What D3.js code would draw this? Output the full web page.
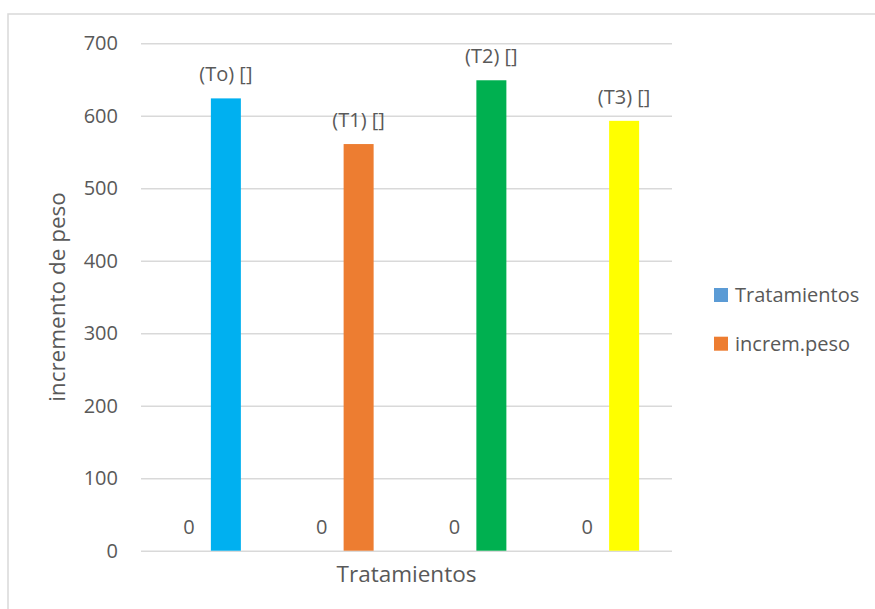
<!DOCTYPE html>
<html>
<head>
<meta charset="utf-8">
<script src="https://cdn.jsdelivr.net/npm/d3@7"></script>
<style>
  html, body { margin: 0; padding: 0; background: #fff; }
  svg { display: block; font-family: "Open Sans", sans-serif; }
</style>
</head>
<body>
<svg id="chart" width="875" height="609"></svg>
<script>
const categories = ["(To)", "(T1)", "(T2)", "(T3)"];
const seriesNames = ["Tratamientos", "increm.peso"];
const tratamientosValues = [0, 0, 0, 0];
const incremPesoValues = [624, 561, 649, 593];
const pointColors = ["#00B0F0", "#ED7D31", "#00B050", "#FFFF00"];
const legendColors = ["#5B9BD5", "#ED7D31"];
const yTicks = [0, 100, 200, 300, 400, 500, 600, 700];
const yTitle = "incremento de peso";
const xTitle = "Tratamientos";

const svg = d3.select("#chart");
const textColor = "#595959";
const gridColor = "#D9D9D9";

// outer chart border
svg.append("rect").attr("x", 8).attr("y", 14).attr("width", 900).attr("height", 700)
  .attr("fill", "none").attr("stroke", gridColor).attr("stroke-width", 1.5);

const plot = { left: 141, right: 672, top: 43.3, bottom: 550.7 };

const y = d3.scaleLinear().domain([0, 700]).range([plot.bottom, plot.top]);
const x0 = d3.scaleBand().domain(categories).range([plot.left, plot.right]).padding(0);
const cw = x0.bandwidth();
const x1 = d3.scaleBand().domain(seriesNames).range([cw / 2 - 33.5, cw / 2 + 33.5]).paddingInner(0.189);

// y axis with gridlines
const yAxis = d3.axisLeft(y).tickValues(yTicks).tickSize(-(plot.right - plot.left)).tickPadding(23);
const gy = svg.append("g").attr("transform", `translate(${plot.left},0)`).call(yAxis);
gy.select(".domain").remove();
gy.selectAll(".tick line").attr("stroke", gridColor).attr("stroke-width", 1.5);
gy.selectAll(".tick text").attr("fill", textColor).style("font-size", "20px")
  .style("font-family", "'Open Sans', sans-serif");

const rows = categories.map((c, i) => ({
  cat: c, idx: i,
  vals: [
    { s: seriesNames[0], v: tratamientosValues[i], label: String(tratamientosValues[i]) },
    { s: seriesNames[1], v: incremPesoValues[i], label: c + " []" }
  ]
}));

const groups = svg.selectAll("g.cat").data(rows).join("g").attr("class", "cat")
  .attr("transform", d => `translate(${x0(d.cat)},0)`);

groups.selectAll("rect").data(d => d.vals.map(v => ({ ...v, idx: d.idx }))).join("rect")
  .attr("x", d => x1(d.s))
  .attr("width", x1.bandwidth())
  .attr("y", d => y(d.v))
  .attr("height", d => y(0) - y(d.v))
  .attr("fill", d => pointColors[d.idx]);

groups.selectAll("text.lbl").data(d => d.vals).join("text").attr("class", "lbl")
  .attr("x", d => x1(d.s) + x1.bandwidth() / 2)
  .attr("y", d => y(d.v) - 17)
  .attr("text-anchor", "middle")
  .attr("fill", textColor)
  .style("font-size", "20px")
  .text(d => d.label);

// axis titles
svg.append("text")
  .attr("transform", `translate(65,${(plot.top + plot.bottom) / 2}) rotate(-90)`)
  .attr("text-anchor", "middle").attr("fill", textColor).style("font-size", "22.5px")
  .text(yTitle);

svg.append("text")
  .attr("x", (plot.left + plot.right) / 2).attr("y", 582)
  .attr("text-anchor", "middle").attr("fill", textColor).style("font-size", "22.5px")
  .text(xTitle);

// legend
const legend = svg.append("g");
const legendRows = legend.selectAll("g").data(seriesNames).join("g")
  .attr("transform", (d, i) => `translate(714,${288 + i * 48.7})`);
legendRows.append("rect").attr("width", 14).attr("height", 14).attr("fill", (d, i) => legendColors[i]);
legendRows.append("text").attr("x", 21).attr("y", 14).attr("fill", textColor)
  .style("font-size", "20px").text(d => d);
</script>
</body>
</html>
